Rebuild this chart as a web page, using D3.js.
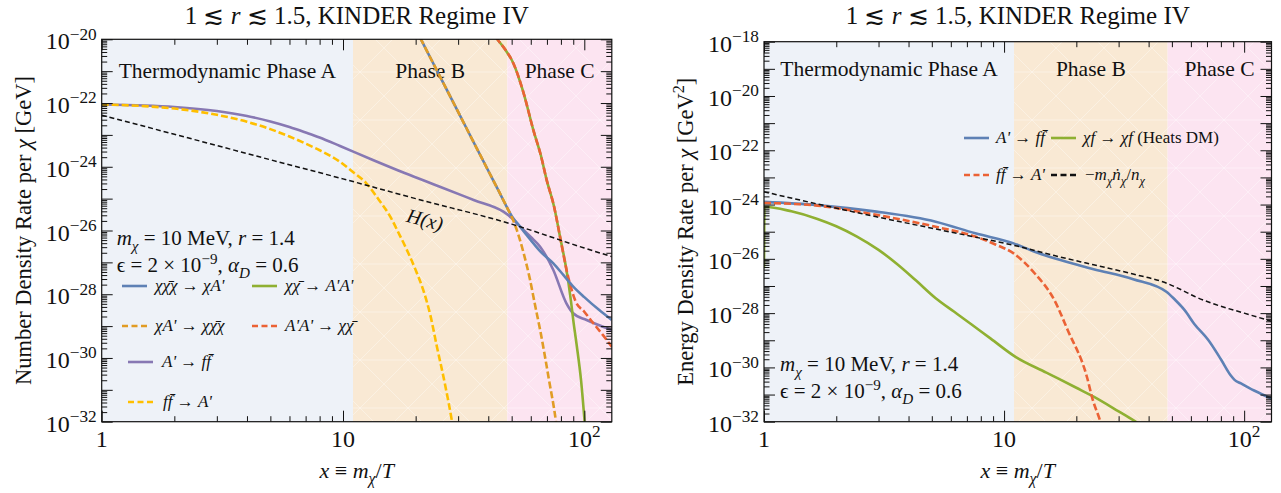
<!DOCTYPE html>
<html>
<head>
<meta charset="utf-8">
<script src="https://cdn.jsdelivr.net/npm/d3@7"></script>
<style>
body { margin: 0; background: #fff; }
</style>
</head>
<body>
<script>
"use strict";

///////////////////
// data  (x = m_chi/T, value = log10 of the rate)
///////////////////
var xDomain = [1, 130];
var phaseEdges = [1, 11, 48, 130];
var phaseNames = ["Thermodynamic Phase A", "Phase B", "Phase C"];
var phaseFills = ["#eef2f8", "#f9e9d4", "#fce4f1"];

// left panel: number density rate per chi [GeV]
var nAToFF = [[1,-22.046],[1.5,-22.077],[2,-22.124],[3,-22.25],[4,-22.407],[5,-22.579],[6,-22.752],[7,-22.924],[8,-23.081],[9.72,-23.348],[13.3,-23.787],[18,-24.196],[25.2,-24.625],[35,-25.05],[46.2,-25.41],[50,-25.607],[54.2,-25.88],[60,-26.203],[65.6,-26.508],[74.4,-27.239],[84.3,-28.284],[89.9,-28.598],[102.2,-28.808],[130,-29.122]];
var nFFToA = [[1,-22.046],[1.5,-22.097],[2,-22.174],[3,-22.37],[4,-22.587],[5,-22.819],[6,-23.052],[7,-23.274],[8,-23.481],[9.7,-23.841],[11,-24.164],[12.5,-24.518],[14,-25.011],[15.7,-25.566],[17,-26.078],[18.4,-26.611],[20,-27.239],[21.5,-27.866],[23,-28.651],[24.5,-29.645],[26.5,-30.847],[28.3,-32.0],[29,-32.5]];
var n3to2Top = [[20,-19.68],[20.9,-19.96],[25,-21.11],[29.6,-22.19],[35,-23.27],[40.6,-24.22],[44,-24.73],[47.7,-25.26]];
var n3to2Tail = [[50,-25.54],[54.2,-25.88],[60,-26.3],[66,-26.67],[74.4,-27.03],[82,-27.4],[90,-27.76],[100,-28.09],[115,-28.49],[130,-28.81]];
var n2to3Tail = [[50,-25.57],[52.5,-25.98],[56,-26.7],[59.6,-27.55],[62.5,-28.34],[65.6,-29.12],[71.4,-30.69],[76.3,-32.0],[78,-32.6]];
var nAnnTop = [[40.7,-19.68],[43.3,-19.97],[47,-20.32],[50.8,-20.75],[56,-21.68],[61.5,-22.85],[66,-23.63],[69.8,-24.41],[75,-25.26],[79.3,-26.19],[84,-27.16]];
var nAnnTail = [[86,-27.65],[88,-28.2],[90,-28.81],[93,-29.6],[96.9,-30.69],[100.3,-32],[101.5,-32.5]];
var nPairAATail = [[86,-27.5],[88,-27.78],[92,-28.22],[100,-28.55],[109,-28.91],[120,-29.3],[130,-29.65]];
var nHubble = [[1,-22.38],[2,-22.98],[5,-23.78],[10,-24.38],[20,-25.0],[50,-25.8],[100,-26.55],[130,-26.82]];

// right panel: energy density rate per chi [GeV^2]
var eAToFF = [[1,-23.9],[1.67,-24.02],[2.94,-24.26],[5.19,-24.63],[7.59,-25.06],[10.96,-25.43],[13.5,-25.75],[16.2,-25.98],[23.6,-26.38],[34.5,-26.75],[47.6,-27.22],[51.3,-27.49],[56.5,-27.89],[62,-28.4],[70.9,-28.99],[80,-29.7],[88,-30.3],[91.2,-30.46],[97,-30.59],[110,-30.85],[130,-31.15]];
var eFFToA = [[1,-23.94],[1.67,-24.04],[2.94,-24.38],[5.19,-24.82],[7.59,-25.18],[9.2,-25.47],[10.96,-25.8],[13.4,-26.53],[16.2,-27.52],[18.4,-28.62],[22.2,-30.39],[23.3,-31.13],[25.2,-32],[26,-32.4]];
var eHeat = [[1,-26.35],[1.005,-24.08],[1.3,-24.25],[1.67,-24.53],[2,-24.8],[2.44,-25.18],[3,-25.67],[3.56,-26.17],[4.3,-26.8],[5.19,-27.45],[6.2,-27.95],[7.3,-28.41],[8.8,-28.94],[11.2,-29.62],[15,-30.19],[20,-30.75],[23.3,-31.05],[30,-31.62],[35.3,-32],[37,-32.12]];
var eNdot = [[1,-23.53],[1.67,-23.98],[2.94,-24.45],[5.19,-24.9],[7.59,-25.2],[10.96,-25.5],[16.2,-25.88],[23.6,-26.22],[34.5,-26.56],[47.6,-26.9],[55,-27.15],[62,-27.38],[73.6,-27.64],[100,-28.0],[130,-28.3]];

// colours (Mathematica default palette)
var cBlue = "#5e81b5", cOrange = "#e19c24", cGreen = "#8fb032", cRed = "#eb6235",
    cPurple = "#8778b3", cYellow = "#ffbf00";

var serif = "'Liberation Serif', 'Times New Roman', 'DejaVu Serif', serif";
var BAR = "\u0304"; // combining macron for the anti-particle bar

///////////////////
// helpers
///////////////////
var svg = d3.select("body").append("svg")
    .attr("width", 1281).attr("height", 493)
    .style("font-family", serif);

var defs = svg.append("defs");
// faint white hatching seen on the phase backgrounds
var pat = defs.append("pattern").attr("id", "hatch")
    .attr("patternUnits", "userSpaceOnUse").attr("width", 48).attr("height", 48);
pat.append("path").attr("d", "M0,0L48,48M48,0L0,48M0,24L48,24")
    .attr("stroke", "#fff").attr("stroke-width", 0.8).attr("stroke-opacity", 0.45).attr("fill", "none");

// parts: [text, flags]; flags: i italic, b subscript, p superscript
function rich(sel, parts, fs) {
    var shift = 0;
    parts.forEach(function(p) {
        var f = p[1] || "";
        var t = sel.append("tspan").text(p[0]).style("font-family", serif);
        var target = f.indexOf("b") >= 0 ? fs * 0.28 : (f.indexOf("p") >= 0 ? -fs * 0.4 : 0);
        if (target !== shift) { t.attr("dy", target - shift); shift = target; }
        if (f.indexOf("i") >= 0) t.style("font-style", "italic");
        if (f.indexOf("b") >= 0 || f.indexOf("p") >= 0) t.style("font-size", (fs * 0.72) + "px");
    });
    return sel;
}

function addText(g, x, y, parts, fs, anchor) {
    var t = g.append("text").attr("x", x).attr("y", y)
        .style("font-family", serif)
        .style("font-size", fs + "px").attr("text-anchor", anchor || "start").attr("fill", "#111");
    return rich(t, parts, fs);
}

function pw(v) { return Math.pow(10, v); }

function drawPanel(p) {
    var x = d3.scaleLog().domain(xDomain).range([p.left, p.right]);
    var y = d3.scaleLog().domain([pw(p.yMin), pw(p.yMax)]).range([p.bottom, p.top]);
    var g = svg.append("g");

    defs.append("clipPath").attr("id", "clip" + p.id)
        .append("rect")
        .attr("x", p.left).attr("y", p.top)
        .attr("width", p.right - p.left).attr("height", p.bottom - p.top);

    // phase backgrounds
    g.selectAll("rect.phase")
        .data(d3.range(3))
        .enter()
        .append("rect")
        .attr("class", "phase")
        .attr("x", function(i) { return x(phaseEdges[i]); })
        .attr("y", p.top)
        .attr("width", function(i) { return x(phaseEdges[i + 1]) - x(phaseEdges[i]); })
        .attr("height", p.bottom - p.top)
        .attr("fill", function(i) { return phaseFills[i]; });
    g.append("rect")
        .attr("x", x(phaseEdges[1])).attr("y", p.top)
        .attr("width", p.right - x(phaseEdges[1])).attr("height", p.bottom - p.top)
        .attr("fill", "url(#hatch)");

    // phase labels
    g.selectAll("text.phase")
        .data(d3.range(3))
        .enter()
        .append("text")
        .attr("class", "phase")
        .attr("x", function(i) { return x(Math.sqrt(phaseEdges[i] * phaseEdges[i + 1])); })
        .attr("y", y(pw(p.yMax - 1)) + 7)
        .attr("text-anchor", "middle")
        .attr("fill", "#111")
        .style("font-family", serif)
        .style("font-size", "21.5px")
        .text(function(i) { return phaseNames[i]; });

    // curves
    var line = d3.line()
        .x(function(d) { return x(d[0]); })
        .y(function(d) { return y(pw(d[1])); })
        .curve(d3.curveMonotoneX);
    var cg = g.append("g").attr("clip-path", "url(#clip" + p.id + ")");
    p.curves.forEach(function(c) {
        cg.append("path")
            .attr("d", line(c.data))
            .attr("fill", "none")
            .attr("stroke", c.color)
            .attr("stroke-width", c.width || 2.6)
            .attr("stroke-dasharray", c.dash || null);
    });

    // ticks
    var xMaj = [1, 10, 100];
    var xMin = [];
    [1, 10, 100].forEach(function(b) {
        for (var k = 2; k < 10; k++) if (k * b <= xDomain[1]) xMin.push(k * b);
    });
    var yMaj = [], yMin = [];
    for (var e = p.yMin; e <= p.yMax; e++) {
        yMaj.push(pw(e));
        if (e < p.yMax) for (var k = 2; k < 10; k++) yMin.push(k * pw(e));
    }
    var axes = [
        [d3.axisBottom(x), "translate(0," + p.bottom + ")", xMaj, xMin],
        [d3.axisTop(x), "translate(0," + p.top + ")", xMaj, xMin],
        [d3.axisLeft(y), "translate(" + p.left + ",0)", yMaj, yMin],
        [d3.axisRight(y), "translate(" + p.right + ",0)", yMaj, yMin]
    ];
    axes.forEach(function(a) {
        [[a[2], 11], [a[3], 5.5]].forEach(function(s) {
            var ax = g.append("g").attr("transform", a[1])
                .call(a[0].tickValues(s[0]).tickSize(-s[1]).tickFormat(""));
            ax.select(".domain").remove();
            ax.selectAll("line").attr("stroke", "#111");
        });
    });
    g.append("rect")
        .attr("x", p.left).attr("y", p.top)
        .attr("width", p.right - p.left).attr("height", p.bottom - p.top)
        .attr("fill", "none").attr("stroke", "#111").attr("stroke-width", 1.2);

    // tick labels
    yMaj.forEach(function(v) {
        var ex = Math.round(Math.log10(v));
        if (ex % 2 !== 0) return;
        addText(g, p.left - 5, y(v) + 10, [["10", ""], ["\u2212" + (-ex), "p"]], 24, "end");
    });
    addText(g, x(1), p.bottom + 25, [["1", ""]], 24, "middle");
    addText(g, x(10), p.bottom + 25, [["10", ""]], 24, "middle");
    addText(g, x(100), p.bottom + 25, [["10", ""], ["2", "p"]], 24, "middle");

    // titles
    addText(g, (p.left + p.right) / 2, 24,
        [["1 \u2272 ", ""], ["r", "i"], [" \u2272 1.5, KINDER Regime IV", ""]], 25, "middle");
    addText(g, (p.left + p.right) / 2, 478,
        [["x", "i"], [" \u2261 ", ""], ["m", "i"], ["\u03c7", "ib"], ["/", ""], ["T", "i"]], 22, "middle");
    var yl = g.append("text")
        .attr("transform", "translate(" + p.yTitleX + "," + ((p.top + p.bottom) / 2) + ") rotate(-90)")
        .attr("text-anchor", "middle")
        .attr("fill", "#111")
        .style("font-family", serif)
        .style("font-size", "22.5px");
    rich(yl, p.yTitle, 22.5);

    // parameter box
    addText(g, p.left + p.paramDx, p.paramY,
        [["m", "i"], ["\u03c7", "ib"], [" = 10 MeV, ", ""], ["r", "i"], [" = 1.4", ""]], 21);
    addText(g, p.left + p.paramDx, p.paramY + 27,
        [["\u03f5 = 2 \u00d7 10", ""], ["\u22129", "p"], [", ", ""], ["\u03b1", "i"], ["D", "ib"], [" = 0.6", ""]], 21);

    // legend
    p.legend.forEach(function(l) {
        g.append("line")
            .attr("x1", l.x).attr("x2", l.x + 25)
            .attr("y1", l.y).attr("y2", l.y)
            .attr("stroke", l.color).attr("stroke-width", 2.6)
            .attr("stroke-dasharray", l.dash ? "6,3.5" : null);
        addText(g, l.x + l.gap, l.y + 5, l.label, p.legendSize);
    });

    return {x: x, y: y, g: g};
}

///////////////////
// left panel
///////////////////
var left = drawPanel({
    id: "L", left: 101.7, right: 611.8, top: 39.3, bottom: 421.7, yMin: -32, yMax: -20,
    yTitleX: 31,
    yTitle: [["Number Density Rate per ", ""], ["\u03c7", "i"], [" [GeV]", ""]],
    paramDx: 15, paramY: 245,
    legendSize: 17,
    curves: [
        {data: nAToFF, color: cPurple},
        {data: nFFToA, color: cYellow, dash: "7,3"},
        {data: nAnnTop.concat(nAnnTail), color: cGreen},
        {data: nAnnTop.concat(nPairAATail), color: cRed, dash: "7,3"},
        {data: n3to2Top.concat(n3to2Tail), color: cBlue},
        {data: n3to2Top.concat(n2to3Tail), color: cOrange, dash: "7,3"},
        {data: nHubble, color: "#111", width: 1.5, dash: "5,3"}
    ],
    legend: [
        {x: 122, y: 286, gap: 33, color: cBlue,
         label: [["\u03c7\u03c7" + BAR + "\u03c7", "i"], [" \u2192 ", ""], ["\u03c7A'", "i"]]},
        {x: 252, y: 286, gap: 33, color: cGreen,
         label: [["\u03c7\u03c7" + BAR, "i"], [" \u2192 ", ""], ["A'A'", "i"]]},
        {x: 122, y: 326, gap: 33, color: cOrange, dash: true,
         label: [["\u03c7A'", "i"], [" \u2192 ", ""], ["\u03c7\u03c7" + BAR + "\u03c7", "i"]]},
        {x: 252, y: 326, gap: 33, color: cRed, dash: true,
         label: [["A'A'", "i"], [" \u2192 ", ""], ["\u03c7\u03c7" + BAR, "i"]]},
        {x: 128, y: 362, gap: 34, color: cPurple,
         label: [["A'", "i"], [" \u2192 ", ""], ["ff" + BAR, "i"]]},
        {x: 128, y: 402, gap: 35, color: cYellow, dash: true,
         label: [["ff" + BAR, "i"], [" \u2192 ", ""], ["A'", "i"]]}
    ]
});

// H(x) label along the Hubble line
left.g.append("text")
    .attr("transform", "translate(" + left.x(21.5) + "," + (left.y(pw(-25.05)) + 26) + ") rotate(15)")
    .attr("text-anchor", "middle")
    .attr("fill", "#111")
    .style("font-family", serif)
    .style("font-size", "20px")
    .style("font-style", "italic")
    .text("H(x)");

///////////////////
// right panel
///////////////////
drawPanel({
    id: "R", left: 764, right: 1271.5, top: 41.7, bottom: 421.7, yMin: -32, yMax: -18,
    yTitleX: 693,
    yTitle: [["Energy Density Rate per ", ""], ["\u03c7", "i"], [" [GeV", ""], ["2", "p"], ["]", ""]],
    paramDx: 16, paramY: 371,
    legendSize: 17,
    curves: [
        {data: eHeat, color: cGreen},
        {data: eAToFF, color: cBlue},
        {data: eFFToA, color: cRed, dash: "7,3"},
        {data: eNdot, color: "#111", width: 1.5, dash: "5,3"}
    ],
    legend: [
        {x: 964, y: 138, gap: 32, color: cBlue,
         label: [["A'", "i"], [" \u2192 ", ""], ["ff" + BAR, "i"]]},
        {x: 1051, y: 138, gap: 32, color: cGreen,
         label: [["\u03c7f", "i"], [" \u2192 ", ""], ["\u03c7f", "i"], [" (Heats DM)", ""]]},
        {x: 964, y: 175, gap: 32, color: cRed, dash: true,
         label: [["ff" + BAR, "i"], [" \u2192 ", ""], ["A'", "i"]]},
        {x: 1051, y: 175, gap: 34, color: "#111", dash: true,
         label: [["\u2212", ""], ["m", "i"], ["\u03c7", "ib"], ["\u1e45", "i"], ["\u03c7", "ib"], ["/", ""], ["n", "i"], ["\u03c7", "ib"]]}
    ]
});
</script>
</body>
</html>
